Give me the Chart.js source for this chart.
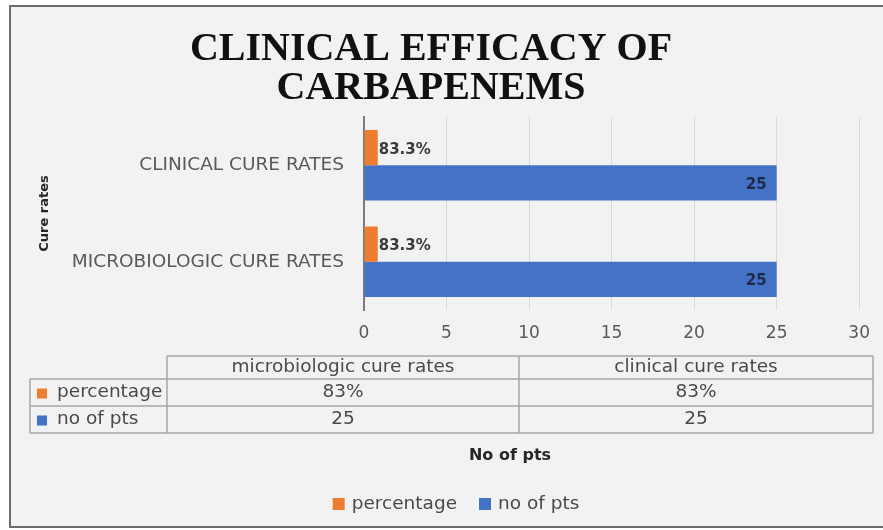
<!DOCTYPE html>
<html>
<head>
<meta charset="utf-8">
<script src="https://cdn.jsdelivr.net/npm/chart.js@4/dist/chart.umd.min.js"></script>
<style>
  html, body { margin: 0; padding: 0; background: #fff; }
</style>
</head>
<body>
<canvas id="chart" width="883" height="530"></canvas>
<script>
// chart data
const categories = ['microbiologic cure rates', 'clinical cure rates'];
const percentage = [0.833, 0.833];
const noOfPts = [25, 25];
const seriesNames = ['percentage', 'no of pts'];
const titleLines = ['CLINICAL EFFICACY OF', 'CARBAPENEMS'];
const yTitle = 'Cure rates';
const xTitle = 'No of pts';

const ORANGE = '#ed7d31';
const BLUE = '#4472c4';
const FONT = '"DejaVu Sans", sans-serif';

// grey box with border behind the chart
const frame = {
  id: 'frame',
  beforeDraw(chart) {
    const ctx = chart.ctx;
    ctx.save();
    ctx.fillStyle = '#ffffff';
    ctx.fillRect(0, 0, chart.width, chart.height);
    ctx.fillStyle = '#f2f2f2';
    ctx.fillRect(10, 6, 873, 521);
    ctx.strokeStyle = '#6b6b6b';
    ctx.lineWidth = 2;
    ctx.strokeRect(10, 6, 880, 521);
    ctx.restore();
  }
};

// value labels on the bars
const barLabels = {
  id: 'barLabels',
  afterDatasetsDraw(chart) {
    const ctx = chart.ctx;
    ctx.save();
    ctx.font = 'bold 15px ' + FONT;
    ctx.textBaseline = 'middle';
    chart.data.datasets.forEach((ds, i) => {
      chart.getDatasetMeta(i).data.forEach((bar, j) => {
        const v = ds.data[j];
        if (i === 0) {
          ctx.fillStyle = '#3a3a3a';
          ctx.textAlign = 'left';
          ctx.fillText((v * 100).toFixed(1) + '%', bar.x + 1, bar.y + 2);
        } else {
          ctx.fillStyle = '#1c2a4a';
          ctx.textAlign = 'right';
          ctx.fillText(String(v), bar.x - 10, bar.y + 2);
        }
      });
    });
    ctx.restore();
  }
};

// excel style data table under the axis, x title and legend
const dataTable = {
  id: 'dataTable',
  afterDraw(chart) {
    const ctx = chart.ctx;
    const cols = [30, 167, 519, 873];
    const rows = [356, 379, 406, 433];
    ctx.save();
    ctx.strokeStyle = '#a6a6a6';
    ctx.lineWidth = 1.5;
    ctx.beginPath();
    ctx.moveTo(cols[1], rows[0]); ctx.lineTo(cols[3], rows[0]);
    for (let r = 1; r < rows.length; r++) {
      ctx.moveTo(cols[0], rows[r]); ctx.lineTo(cols[3], rows[r]);
    }
    ctx.moveTo(cols[0], rows[1]); ctx.lineTo(cols[0], rows[3]);
    for (let c = 1; c < cols.length; c++) {
      ctx.moveTo(cols[c], rows[0]); ctx.lineTo(cols[c], rows[3]);
    }
    ctx.stroke();

    ctx.font = '18.5px ' + FONT;
    ctx.fillStyle = '#4a4a4a';
    ctx.textBaseline = 'middle';
    ctx.textAlign = 'center';
    categories.forEach((c, i) => {
      const cx = (cols[i + 1] + cols[i + 2]) / 2;
      ctx.fillText(c, cx, (rows[0] + rows[1]) / 2);
      ctx.fillText(Math.round(percentage[i] * 100) + '%', cx, (rows[1] + rows[2]) / 2);
      ctx.fillText(String(noOfPts[i]), cx, (rows[2] + rows[3]) / 2);
    });
    const colors = chart.data.datasets.map(d => d.backgroundColor);
    seriesNames.forEach((s, i) => {
      const cy = (rows[i + 1] + rows[i + 2]) / 2;
      ctx.fillStyle = colors[i];
      ctx.fillRect(37, cy - 4, 10, 10);
      ctx.fillStyle = '#4a4a4a';
      ctx.textAlign = 'left';
      ctx.fillText(s, 57, cy);
    });

    // axis title under the table
    ctx.font = 'bold 16px ' + FONT;
    ctx.fillStyle = '#262626';
    ctx.textAlign = 'center';
    ctx.fillText(xTitle, 510, 456);

    // legend
    ctx.font = '18.5px ' + FONT;
    const items = seriesNames.map((s, i) => ({ s, c: colors[i], w: ctx.measureText(s).width }));
    const box = 12, gap = 7, sep = 22;
    const total = items.reduce((a, it) => a + box + gap + it.w, 0) + sep * (items.length - 1);
    let x = 456 - total / 2;
    items.forEach(it => {
      ctx.fillStyle = it.c;
      ctx.fillRect(x, 498, box, box);
      x += box + gap;
      ctx.fillStyle = '#4a4a4a';
      ctx.textAlign = 'left';
      ctx.fillText(it.s, x, 504);
      x += it.w + sep;
    });
    ctx.restore();
  }
};

new Chart(document.getElementById('chart'), {
  type: 'bar',
  data: {
    labels: categories,
    datasets: [
      { label: seriesNames[0], data: percentage, backgroundColor: ORANGE },
      { label: seriesNames[1], data: noOfPts, backgroundColor: BLUE }
    ]
  },
  options: {
    indexAxis: 'y',
    responsive: false,
    animation: false,
    devicePixelRatio: 1,
    layout: { padding: { top: 8, left: 0, right: 21, bottom: 0 } },
    datasets: { bar: { categoryPercentage: 0.73, barPercentage: 1 } },
    scales: {
      x: {
        min: 0,
        max: 30,
        ticks: { stepSize: 5, padding: 13, color: '#595959', font: { family: FONT, size: 17 } },
        grid: { color: '#d9d9d9', drawTicks: false },
        border: { display: false },
        afterFit(scale) { scale.height = 220; }
      },
      y: {
        reverse: true,
        ticks: {
          padding: 20,
          color: '#595959',
          font: { family: FONT, size: 18.5 },
          callback(v) { return categories[v].toUpperCase(); }
        },
        grid: { display: false, drawTicks: false },
        border: { display: true, color: '#7a7a7a', width: 2 },
        title: {
          display: true,
          text: yTitle,
          color: '#262626',
          font: { family: FONT, size: 13, weight: 'bold' },
          padding: { top: 37, bottom: 0 }
        },
        afterFit(scale) { scale.width = 364; }
      }
    },
    plugins: {
      title: {
        display: true,
        text: titleLines,
        color: '#111111',
        font: { family: '"Liberation Serif", "Times New Roman", serif', size: 40, weight: 'bold', lineHeight: 0.97 },
        padding: { top: 22.5, bottom: 8.9 }
      },
      legend: { display: false },
      tooltip: { enabled: false }
    }
  },
  plugins: [frame, barLabels, dataTable]
});
</script>
</body>
</html>
